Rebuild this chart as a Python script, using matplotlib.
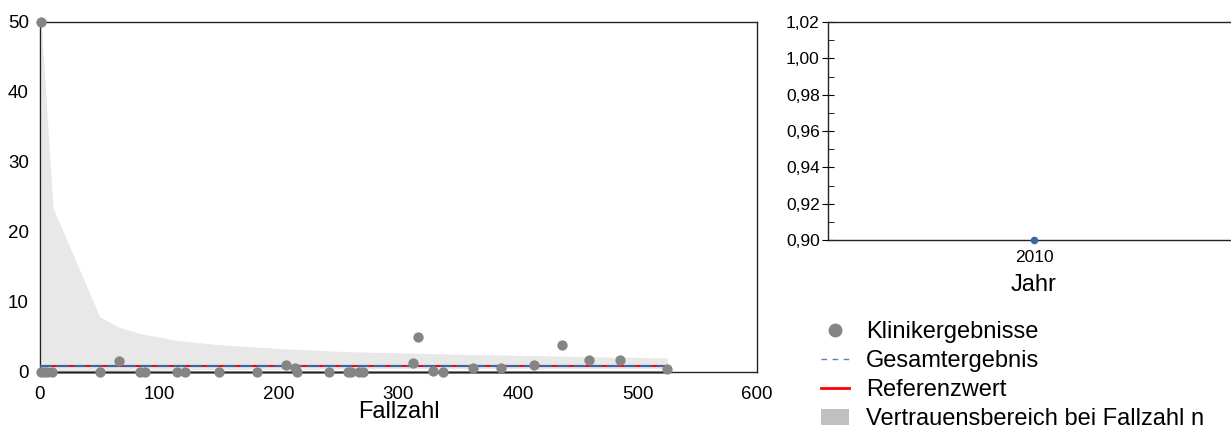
import matplotlib
matplotlib.use("Agg")
import matplotlib.pyplot as plt
from matplotlib.lines import Line2D
from matplotlib.patches import Patch
from matplotlib.ticker import MultipleLocator, FuncFormatter

plt.rcParams['font.family'] = ['Liberation Sans', 'DejaVu Sans']

# Klinikergebnisse: Fallzahl und Ergebnis
fallzahl = [1, 1, 3, 6, 10, 50, 66, 84, 88, 115, 121, 150, 182, 206, 213, 215,
            242, 258, 260, 267, 270, 312, 316, 329, 337, 362, 386, 413, 437,
            459, 485, 525]
ergebnis = [50, 0, 0, 0, 0, 0, 1.6, 0, 0, 0, 0, 0, 0, 1.0, 0.6, 0,
            0, 0, 0, 0, 0, 1.3, 5.0, 0.2, 0, 0.6, 0.6, 1.0, 3.9,
            1.7, 1.7, 0.4]

# Vertrauensbereich
band_n = [1, 11, 50, 66, 84, 115, 150, 206, 258, 312, 362, 413, 459, 525]
band_oben = [50, 23.4, 7.9, 6.4, 5.5, 4.5, 3.9, 3.3, 2.9, 2.7, 2.5, 2.35, 2.2, 2.0]
band_unten = [0, 0, 0.1, 0.2, 0.25, 0.3, 0.35, 0.4, 0.42, 0.45, 0.45, 0.45, 0.45, 0.45]

gesamtergebnis = 0.90
referenzwert = 0.92

jahre = [2010]
jahr_werte = [0.90]

grau = '#858585'
blau = '#3a66a8'

fig = plt.figure(figsize=(12.31, 4.30), dpi=100)
W, H = 1231, 430
ax = fig.add_axes([40 / W, (H - 372) / H, (757 - 40) / W, (372 - 22) / H])
ax2 = fig.add_axes([828 / W, (H - 240) / H, (1240 - 828) / W, (240 - 22) / H])

# linkes Diagramm
ax.fill_between(band_n, band_unten, band_oben, color='#e8e8e8', lw=0, zorder=1)
ax.plot([0, max(fallzahl)], [0, 0], color=grau, lw=2, zorder=2, clip_on=False)
ax.plot([0, max(fallzahl)], [referenzwert, referenzwert], color='red', lw=1.5, zorder=3)
ax.plot([0, max(fallzahl)], [gesamtergebnis, gesamtergebnis], color=blau, lw=1.5,
        dashes=(6, 2), zorder=4)
ax.scatter(fallzahl, ergebnis, s=55, color=grau, zorder=5, clip_on=False, lw=0)

ax.set_xlim(0, 600)
ax.set_ylim(0, 50)
ax.xaxis.set_major_locator(MultipleLocator(100))
ax.yaxis.set_major_locator(MultipleLocator(10))
ax.tick_params(axis='x', length=0, labelsize=13.5, pad=10)
ax.tick_params(axis='y', length=0, labelsize=13.5, pad=8)
ax.set_xlabel('Fallzahl', fontsize=17, labelpad=-1)
for s in ax.spines.values():
    s.set_color('#222222')
    s.set_linewidth(1)

# rechtes Diagramm
ax2.scatter(jahre, jahr_werte, s=30, color=blau, zorder=5, clip_on=False, lw=0)
ax2.set_xlim(2009.5, 2010.5)
ax2.set_ylim(0.90, 1.02)
ax2.set_xticks(jahre)
ax2.yaxis.set_major_locator(MultipleLocator(0.02))
ax2.yaxis.set_minor_locator(MultipleLocator(0.01))
ax2.yaxis.set_major_formatter(FuncFormatter(lambda v, p: f'{v:.2f}'.replace('.', ',')))
ax2.tick_params(axis='y', which='major', direction='inout', length=8, labelsize=12.5, pad=2)
ax2.tick_params(axis='y', which='minor', direction='in', length=4)
ax2.tick_params(axis='x', length=0, labelsize=12.5, pad=7)
ax2.set_xlabel('Jahr', fontsize=17, labelpad=7)
for s in ax2.spines.values():
    s.set_color('#222222')
    s.set_linewidth(1)

# Legende
handles = [
    Line2D([], [], marker='o', ls='none', color=grau, markersize=9),
    Line2D([], [], color='#5a80b8', lw=1, dashes=(4, 4)),
    Line2D([], [], color='red', lw=2),
    Patch(facecolor='#c0c0c0', edgecolor='none'),
]
labels = ['Klinikergebnisse', 'Gesamtergebnis', 'Referenzwert',
          'Vertrauensbereich bei Fallzahl n']
fig.legend(handles, labels, loc='upper left', bbox_to_anchor=(821 / W, (H - 321) / H),
           frameon=False, fontsize=17, handlelength=1.2, handletextpad=0.7,
           labelspacing=0.3, borderpad=0, borderaxespad=0)

fig.savefig('out.png', dpi=100)
